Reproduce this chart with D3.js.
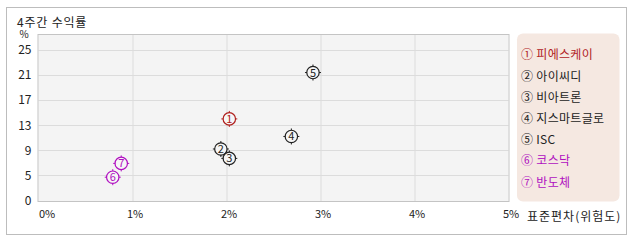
<!DOCTYPE html>
<html>
<head>
<meta charset="utf-8">
<script src="https://cdn.jsdelivr.net/npm/d3@7"></script>
<style>
  body { margin: 0; background: #fff; }
  text { font-family: "Noto Sans CJK KR", "Noto Sans", sans-serif; }
</style>
</head>
<body>
<svg width="638" height="242"></svg>
<script>
const names = ['피에스케이', '아이씨디', '비아트론', '지스마트글로', 'ISC', '코스닥', '반도체'];
const marks = ['①', '②', '③', '④', '⑤', '⑥', '⑦'];
const risk = [2.03, 1.94, 2.03, 2.69, 2.92, 0.79, 0.88];
const returns = [14.0, 9.2, 7.7, 11.2, 21.4, 4.7, 6.9];
const colors = ['#b0201e', '#222222', '#222222', '#222222', '#222222', '#b010c0', '#b010c0'];
const xTicks = [0, 1, 2, 3, 4, 5];
const yTicks = [0, 5, 9, 13, 17, 21, 25];

const svg = d3.select('svg');

const margin = {top: 34, left: 38.5};
const innerWidth = 508.5 - margin.left;
const innerHeight = 201 - margin.top;

// outer frame
svg.append('rect')
    .attr('x', 6.5).attr('y', 7.5)
    .attr('width', 620).attr('height', 227)
    .attr('fill', '#fff').attr('stroke', '#bdbdbd');

svg.append('text')
    .attr('x', 17).attr('y', 27)
    .attr('font-size', 12).attr('fill', '#222')
    .attr('letter-spacing', 0.8)
    .text('4주간 수익률');

const xScale = d3.scaleLinear().domain([0, 5]).range([0, innerWidth]);
const yScale = d3.scaleLinear().domain([0.9, 27.55]).range([innerHeight, 0]).clamp(true);

const g = svg.append('g')
    .attr('transform', `translate(${margin.left}, ${margin.top})`);

g.append('rect')
    .attr('width', innerWidth).attr('height', innerHeight)
    .attr('fill', '#f4f4f4');

// grid
g.append('g').selectAll('line').data(xTicks.filter(d => d > 0 && d < 5))
    .enter().append('line')
        .attr('x1', d => Math.round(xScale(d)) + 0.5)
        .attr('x2', d => Math.round(xScale(d)) + 0.5)
        .attr('y1', 0).attr('y2', innerHeight)
        .attr('stroke', '#dcdcdc');
g.append('g').selectAll('line').data(yTicks.filter(d => d > 0))
    .enter().append('line')
        .attr('y1', d => Math.round(yScale(d)) + 0.5)
        .attr('y2', d => Math.round(yScale(d)) + 0.5)
        .attr('x1', 0).attr('x2', innerWidth)
        .attr('stroke', '#dcdcdc');

g.append('rect')
    .attr('x', -0.5).attr('y', 0.5)
    .attr('width', innerWidth + 1).attr('height', innerHeight)
    .attr('fill', 'none').attr('stroke', '#c4c4c4');

// axes
const yAxis = d3.axisLeft(yScale).tickValues(yTicks).tickSize(0).tickPadding(7);
const yG = g.append('g').call(yAxis);
yG.select('.domain').remove();
yG.selectAll('text').attr('font-size', 12).attr('fill', '#222')
    .attr('font-family', '"Noto Sans CJK KR", sans-serif');

const xAxis = d3.axisBottom(xScale).tickValues(xTicks).tickFormat(d => d + '%').tickSize(0).tickPadding(9);
const xG = g.append('g').call(xAxis)
    .attr('transform', `translate(2, ${innerHeight})`);
xG.select('.domain').remove();
xG.selectAll('text').attr('font-size', 11).attr('fill', '#222')
    .attr('font-family', '"Noto Sans CJK KR", sans-serif');
xG.selectAll('text').filter(d => d === 0).attr('text-anchor', 'start').attr('dx', -2);

svg.append('text')
    .attr('x', 24).attr('y', 38)
    .attr('text-anchor', 'middle')
    .attr('font-size', 10).attr('fill', '#222')
    .text('%');

svg.append('text')
    .attr('x', 527).attr('y', 221)
    .attr('font-size', 12).attr('fill', '#222')
    .attr('letter-spacing', 1.0)
    .text('표준편차(위험도)');

// points
const data = names.map((n, i) => ({name: n, x: risk[i], y: returns[i], color: colors[i], num: i + 1}));

const pts = g.selectAll('g.pt').data(data)
    .enter().append('g')
        .attr('class', 'pt')
        .attr('transform', d => `translate(${xScale(d.x)}, ${yScale(d.y)})`);

pts.append('circle')
    .attr('r', 6.2)
    .attr('fill', '#f6f6f6')
    .attr('stroke', d => d.color)
    .attr('stroke-width', 1.2);
pts.append('path')
    .attr('d', 'M0,-8V-6M0,6V8M-8,0H-6M6,0H8')
    .attr('stroke', d => d.color)
    .attr('stroke-width', 1);
pts.append('text')
    .attr('text-anchor', 'middle')
    .attr('dy', '0.36em')
    .attr('font-size', 11)
    .attr('fill', d => d.color)
    .text(d => d.num);

// legend
svg.append('rect')
    .attr('x', 517).attr('y', 33.5)
    .attr('width', 102.5).attr('height', 168)
    .attr('rx', 6)
    .attr('fill', '#f5e8e1');

svg.append('g').selectAll('text').data(data)
    .enter().append('text')
        .attr('x', 521)
        .attr('y', (d, i) => 55 + i * 21.2)
        .attr('dy', '0.36em')
        .attr('font-size', 12)
        .attr('letter-spacing', 0.3)
        .attr('fill', d => d.color)
        .text((d, i) => marks[i] + ' ' + d.name);
</script>
</body>
</html>
